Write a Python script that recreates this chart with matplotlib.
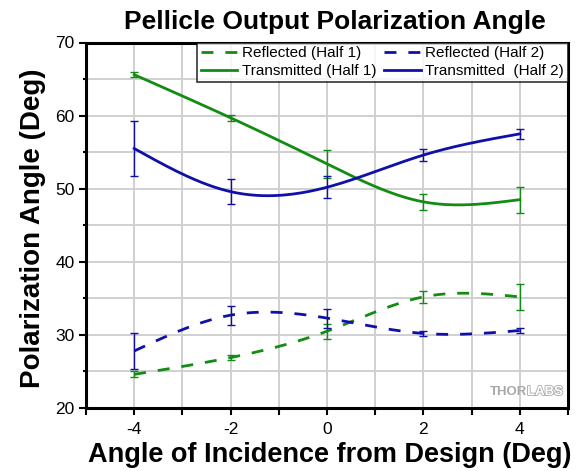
import numpy as np
import matplotlib
matplotlib.use("Agg")
import matplotlib.pyplot as plt
from matplotlib.ticker import MultipleLocator
import matplotlib.patheffects as pe

plt.rcParams['font.family'] = ['Liberation Sans', 'DejaVu Sans']
plt.rcParams['axes.unicode_minus'] = False

# Data
angles = [-4, -2, 0, 2, 4]
refl_h1 = [24.6, 26.9, 30.5, 35.2, 35.2]
refl_h1_err = [0.4, 0.4, 1.0, 0.8, 1.8]
refl_h2 = [27.8, 32.7, 32.3, 30.2, 30.6]
refl_h2_err = [2.5, 1.3, 1.3, 0.3, 0.3]
trans_h1 = [65.6, 59.7, 53.4, 48.2, 48.5]
trans_h1_err = [0.3, 0.4, 1.9, 1.1, 1.8]
trans_h2 = [55.5, 49.6, 50.2, 54.6, 57.5]
trans_h2_err = [3.7, 1.7, 1.5, 0.8, 0.7]

labels = ["Reflected (Half 1)", "Reflected (Half 2)",
          "Transmitted (Half 1)", "Transmitted  (Half 2)"]
green = '#128c12'
blue = '#1010a8'


def natural_spline(x, y, n=200):
    x = np.asarray(x, float); y = np.asarray(y, float)
    m = len(x); h = np.diff(x)
    A = np.zeros((m, m)); b = np.zeros(m)
    A[0, 0] = 1; A[-1, -1] = 1
    for i in range(1, m - 1):
        A[i, i - 1] = h[i - 1]; A[i, i] = 2 * (h[i - 1] + h[i]); A[i, i + 1] = h[i]
        b[i] = 3 * ((y[i + 1] - y[i]) / h[i] - (y[i] - y[i - 1]) / h[i - 1])
    c = np.linalg.solve(A, b)
    xs = np.linspace(x[0], x[-1], n)
    ys = np.empty_like(xs)
    for k, xv in enumerate(xs):
        i = min(np.searchsorted(x, xv, side='right') - 1, m - 2)
        dx = xv - x[i]
        bi = (y[i + 1] - y[i]) / h[i] - h[i] * (2 * c[i] + c[i + 1]) / 3
        di = (c[i + 1] - c[i]) / (3 * h[i])
        ys[k] = y[i] + bi * dx + c[i] * dx ** 2 + di * dx ** 3
    return xs, ys


W, H = 586, 471
fig = plt.figure(figsize=(W / 100, H / 100), dpi=100)
L, R, T, B = 86, 568, 42.5, 408
ax = fig.add_axes([L / W, 1 - B / H, (R - L) / W, (B - T) / H])

dash = (0, (4.3, 4.3))
series = [
    (refl_h1, refl_h1_err, green, dash),
    (refl_h2, refl_h2_err, blue, dash),
    (trans_h1, trans_h1_err, green, '-'),
    (trans_h2, trans_h2_err, blue, '-'),
]
handles = []
for (vals, errs, col, ls), lab in zip(series, labels):
    xs, ys = natural_spline(angles, vals)
    h, = ax.plot(xs, ys, color=col, lw=2.0, ls=ls, label=lab, zorder=3)
    ax.errorbar(angles, vals, yerr=errs, fmt='none', ecolor=col,
                elinewidth=1.0, capsize=3, capthick=1.0, zorder=4)
    handles.append(h)

ax.set_xlim(-5, 5)
ax.set_ylim(20, 70)
ax.xaxis.set_major_locator(MultipleLocator(2))
ax.xaxis.set_minor_locator(MultipleLocator(1))
ax.yaxis.set_major_locator(MultipleLocator(10))
ax.yaxis.set_minor_locator(MultipleLocator(5))
ax.set_xticks([-4, -2, 0, 2, 4])
ax.grid(True, which='both', color='#d0d0d0', lw=1.4, zorder=0)
ax.set_axisbelow(True)
ax.tick_params(axis='x', which='both', direction='out', length=5.3, width=1.5)
ax.tick_params(axis='x', which='major', labelsize=12.5, pad=4.5)
ax.tick_params(axis='y', which='major', direction='out', length=5.3, width=1.5,
               labelsize=12.5, pad=3)
ax.tick_params(axis='y', which='minor', direction='out', length=2.5, width=1.5)
for s in ax.spines.values():
    s.set_linewidth(2.2)

fig.text(335 / W, 1 - 29.5 / H, "Pellicle Output Polarization Angle", fontsize=19,
         fontweight='bold', ha='center', va='baseline')
fig.text(330 / W, 1 - 461.7 / H, "Angle of Incidence from Design (Deg)", fontsize=19.5,
         fontweight='bold', ha='center', va='baseline')
fig.text(33 / W, 1 - 228 / H, "Polarization Angle (Deg)", fontsize=20,
         fontweight='bold', ha='center', va='center', rotation=90)

order = [0, 2, 1, 3]
leg = ax.legend(handles=[handles[i] for i in order], labels=[labels[i] for i in order],
                ncol=2, loc='upper right', bbox_to_anchor=(1.0, 1.0),
                fontsize=11, frameon=True, fancybox=False, edgecolor='black',
                borderpad=0.25, handlelength=2.4, handletextpad=0.3,
                columnspacing=0.5, labelspacing=0.25, borderaxespad=0)
leg.get_frame().set_linewidth(1.2)

jx = 1 - 41 / (R - L)
jy = 13 / (B - T)
ax.text(jx, jy, "THOR", transform=ax.transAxes, ha='right', va='baseline',
        fontsize=9.5, fontweight='bold', color='#a8a8a8')
ax.text(jx, jy, "LABS", transform=ax.transAxes, ha='left', va='baseline',
        fontsize=9.5, fontweight='bold', color='white',
        path_effects=[pe.withStroke(linewidth=1.2, foreground='#a8a8a8')])

fig.savefig("out.png", dpi=100)
